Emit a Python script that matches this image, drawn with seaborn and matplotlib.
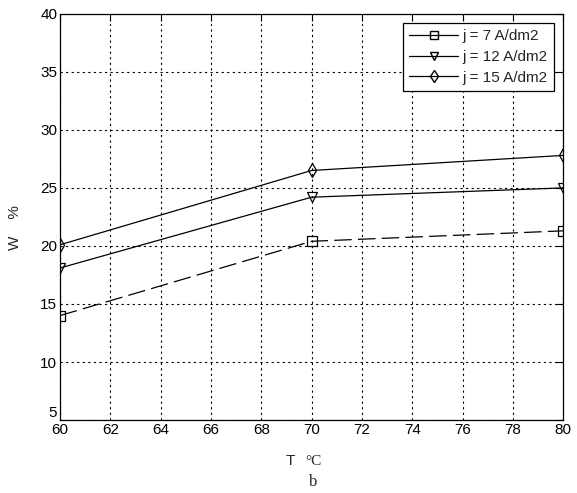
import matplotlib
matplotlib.use("Agg")
import matplotlib.pyplot as plt
import matplotlib.transforms as mtrans
import seaborn as sns
import pandas as pd
from matplotlib.lines import Line2D

# --- data ---
temps = [60, 70, 80]
w_j7 = [14.0, 20.4, 21.3]
w_j12 = [18.1, 24.2, 25.0]
w_j15 = [20.1, 26.5, 27.8]
labels = ["j = 7 A/dm2", "j = 12 A/dm2", "j = 15 A/dm2"]
x_ticks = list(range(60, 81, 2))
y_ticks = list(range(5, 41, 5))

sns.set_style("white")
plt.rcParams["font.family"] = ["Liberation Sans", "DejaVu Sans"]

df = pd.DataFrame({
    "T": temps * 3,
    "W": w_j7 + w_j12 + w_j15,
    "series": [labels[0]] * 3 + [labels[1]] * 3 + [labels[2]] * 3,
})

fig = plt.figure(figsize=(5.77, 4.93), dpi=100)
ax = fig.add_axes([0.104, 0.148, 0.872, 0.824])

markers = ["s", "v", "d"]
styles = [(0, (14, 5)), "-", "-"]
for lab, mk, ls in zip(labels, markers, styles):
    sub = df[df["series"] == lab]
    sns.lineplot(data=sub, x="T", y="W", ax=ax, color="black", linewidth=0.9,
                 marker=mk, markersize=7, markerfacecolor="none",
                 markeredgecolor="black", markeredgewidth=0.9,
                 linestyle=ls, legend=False, zorder=3)

ax.set_xlim(60, 80)
ax.set_ylim(5, 40)
ax.set_xticks(x_ticks)
ax.set_yticks(y_ticks)
ax.tick_params(direction="in", length=5, width=0.8, top=True, right=True,
               labelsize=11, colors="black", pad=2)
ax.grid(True, color="black", linestyle=(0, (2, 3)), linewidth=0.8)
for s in ax.spines.values():
    s.set_color("black")
    s.set_linewidth(0.9)

# lift the lowest y label clear of the "60" below it
fig.canvas.draw()
lowest = ax.get_yticklabels()[0]
lowest.set_transform(lowest.get_transform() +
                     mtrans.ScaledTranslation(0, 6 / 72, fig.dpi_scale_trans))

ax.set_xlabel("")
ax.set_ylabel("W    %", fontsize=11)
ax.yaxis.set_label_coords(-0.075, 0.475)

handles = [Line2D([0], [0], color="black", linewidth=0.9, marker=mk, markersize=6,
                  markerfacecolor="none", markeredgecolor="black") for mk in markers]
leg = ax.legend(handles, labels, loc="upper right", fontsize=11, frameon=True,
                fancybox=False, edgecolor="black", framealpha=1,
                handlelength=3.2, borderpad=0.4, labelspacing=0.45,
                handletextpad=0.3, borderaxespad=0.6)
leg.get_frame().set_linewidth(0.9)

fig.text(0.503, 0.065, "T", fontsize=11, ha="center", va="center")
fig.text(0.543, 0.063, "°C", fontsize=11, ha="center", va="center",
         family=["Liberation Serif", "DejaVu Serif"])
fig.text(0.543, 0.022, "b", fontsize=12, ha="center", va="center",
         family=["Liberation Serif", "DejaVu Serif"])

fig.savefig("out.png", dpi=100)
